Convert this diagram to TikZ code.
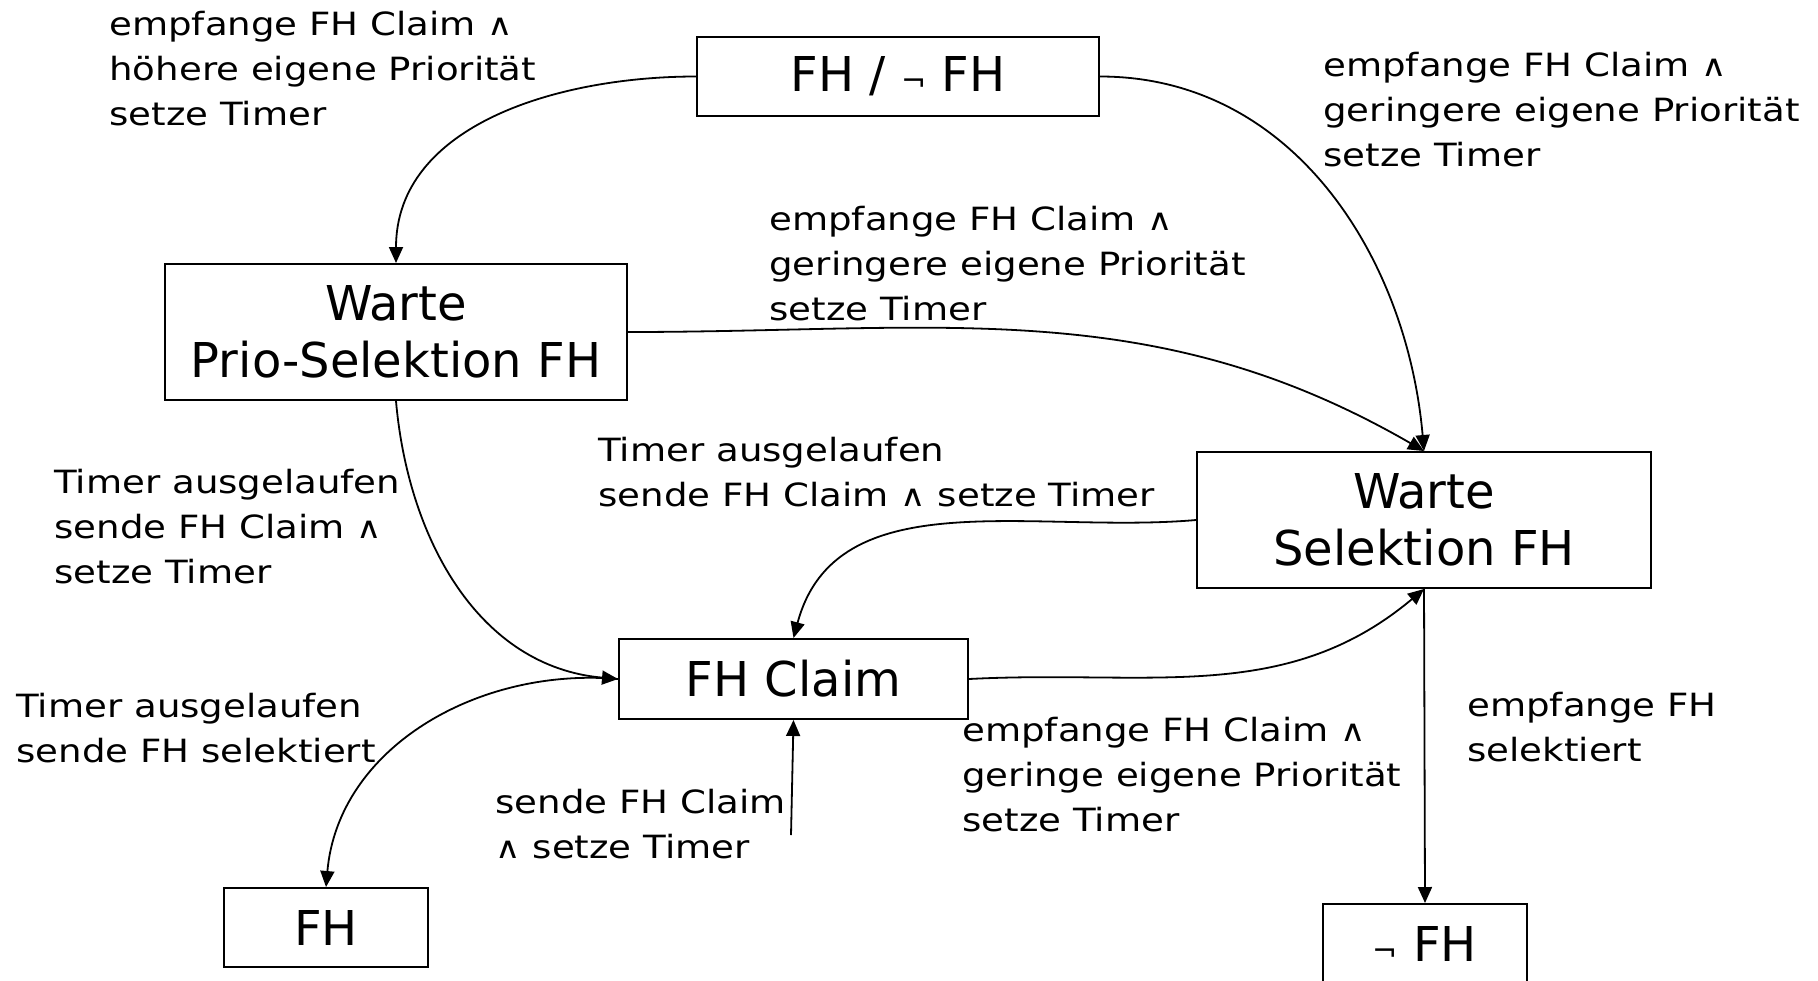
\documentclass[tikz,border=0pt]{standalone}
\usepackage{fontspec}
\setmainfont{DejaVu Sans}
\newfontfamily\lblfont[FakeStretch=1.16]{DejaVu Sans}
\usetikzlibrary{arrows.meta}
\newcommand{\myand}{{\fontsize{15}{15}\selectfont ∧}}
\newcommand{\mynot}{{\fontsize{15}{15}\selectfont ¬}}
\begin{document}
\begin{tikzpicture}[x=0.5pt,y=0.5pt,
  box/.style={draw,line width=1pt,inner sep=0pt,align=center,font=\fontsize{24}{28.5}\selectfont},
  lbl/.style={anchor=north west,inner sep=0pt,align=left,font=\lblfont\fontsize{16}{22.5}\selectfont},
  arr/.style={line width=0.9pt,-{Triangle[length=8pt,width=7pt]}}]
\useasboundingbox (0,0) rectangle (1818,-980);
% states
\node[box,minimum width=201pt,minimum height=39.5pt] (top) at (898,-76.5) {FH / \mynot\ FH};
\node[box,minimum width=231pt,minimum height=68pt] (prio) at (396,-332) {Warte\\Prio-Selektion FH};
\node[box,minimum width=227pt,minimum height=68pt] (sel) at (1424,-520) {Warte\\Selektion FH};
\node[box,minimum width=174.5pt,minimum height=40pt] (claim) at (793.5,-679) {FH Claim};
\node[box,minimum width=102pt,minimum height=39.5pt] (fh) at (326,-927.5) {FH};
\node[box,minimum width=102pt,minimum height=39.5pt] (nfh) at (1425,-943.5) {\mynot\ FH};
\coordinate (start) at (791,-835);
% labels
\node[lbl] (l1) at (109,-11) {empfange FH Claim \myand\\höhere eigene Priorität\\setze Timer};
\node[lbl] (l2) at (1323,-52) {empfange FH Claim \myand\\geringere eigene Priorität\\setze Timer};
\node[lbl] (l3) at (769,-206) {empfange FH Claim \myand\\geringere eigene Priorität\\setze Timer};
\node[lbl] (l4) at (598,-437) {Timer ausgelaufen\\sende FH Claim \myand{} setze Timer};
\node[lbl] (l5) at (54,-469) {Timer ausgelaufen\\sende FH Claim \myand\\setze Timer};
\node[lbl] (l6) at (16,-693) {Timer ausgelaufen\\sende FH selektiert};
\node[lbl] (l7) at (495,-789) {sende FH Claim\\\myand{} setze Timer};
\node[lbl] (l8) at (962,-717) {empfange FH Claim \myand\\geringe eigene Priorität\\setze Timer};
\node[lbl] (l9) at (1467,-692) {empfange FH\\selektiert};
% transitions
\draw[arr] (top.west) to[out=180,in=90] (prio.north);
\draw[arr] (top.east) to[out=0,in=95] (sel.north);
\draw[arr] (prio.east) to[out=0,in=150] (sel.north);
\draw[arr] (prio.south) to[out=-85,in=175] (claim.west);
\draw[arr] (claim.west) to[out=175,in=85] (fh.north);
\draw[arr] (sel.west) to[out=185,in=75] (claim.north);
\draw[arr] (claim.east) to[out=3,in=-140] (sel.south);
\draw[arr] (start) -- (claim.south);
\draw[arr] (sel.south) -- (nfh.north);
\end{tikzpicture}
\end{document}
